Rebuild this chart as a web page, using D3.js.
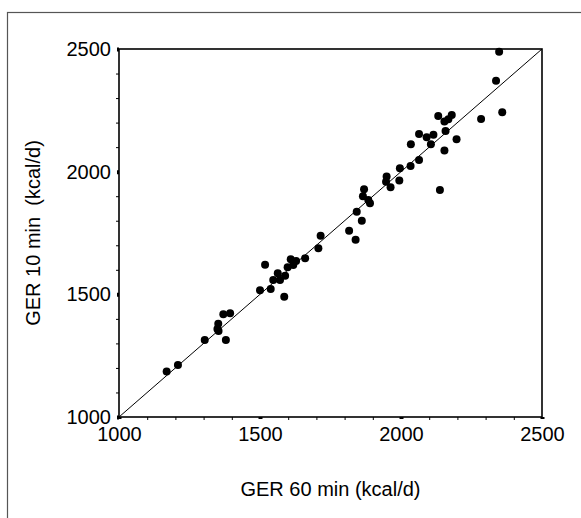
<!DOCTYPE html>
<html>
<head>
<meta charset="utf-8">
<script src="https://cdn.jsdelivr.net/npm/d3@7"></script>
<style>
  body { margin: 0; background: #fff; }
  svg { display: block; font-family: "Liberation Sans", Arial, sans-serif; }
</style>
</head>
<body>
<div id="chart"></div>
<script>
// GER at 60 min (x) vs GER at 10 min (y), kcal/d
const ger60 = [
  1169, 1209, 1304, 1349, 1352, 1353, 1370, 1394, 1379, 1500,
  1518, 1538, 1547, 1563, 1571, 1586, 1589, 1598, 1609, 1618,
  1628, 1660, 1707, 1715, 1816, 1839, 1843, 1861, 1869, 1865,
  1884, 1890, 1947, 1963, 1949, 1994, 1996, 2034, 2064, 2035,
  2064, 2091, 2115, 2106, 2138, 2154, 2158, 2197, 2154, 2168,
  2132, 2180, 2284, 2359, 2337, 2348
];
const ger10 = [
  1185, 1212, 1314, 1359, 1380, 1351, 1419, 1423, 1314, 1517,
  1621, 1522, 1558, 1586, 1558, 1490, 1576, 1610, 1643, 1620,
  1636, 1647, 1688, 1739, 1759, 1722, 1837, 1800, 1928, 1900,
  1885, 1871, 1959, 1936, 1980, 1964, 2014, 2023, 2048, 2112,
  2154, 2140, 2150, 2112, 1925, 2086, 2166, 2132, 2204, 2214,
  2227, 2231, 2215, 2242, 2371, 2489
];
const majorTicks = [1000, 1500, 2000, 2500];
const minorTicks = d3.range(1000, 2501, 100).filter(v => v % 500 !== 0);

const width = 581;
const height = 518;
const margin = { top: 49, right: 39, bottom: 101, left: 119 };

const svg = d3.select("#chart")
  .append("svg")
  .attr("width", width)
  .attr("height", height);

// outer frame (only left/top visible)
svg.append("rect")
  .attr("x", 7.5)
  .attr("y", 12.5)
  .attr("width", 620)
  .attr("height", 560)
  .attr("fill", "none")
  .attr("stroke", "#555")
  .attr("stroke-width", 1.2);

const x = d3.scaleLinear()
  .domain([1000, 2500])
  .range([margin.left, width - margin.right]);

const y = d3.scaleLinear()
  .domain([1000, 2500])
  .range([height - margin.bottom, margin.top]);

// minor ticks
svg.append("g")
  .attr("transform", `translate(0, ${y(1000)})`)
  .call(d3.axisBottom(x).tickValues(minorTicks).tickSize(3).tickFormat(""))
  .call(g => g.select(".domain").remove())
  .selectAll("line").attr("stroke", "#000").attr("stroke-width", 1);

svg.append("g")
  .attr("transform", `translate(${x(1000)}, 0)`)
  .call(d3.axisLeft(y).tickValues(minorTicks).tickSize(3).tickFormat(""))
  .call(g => g.select(".domain").remove())
  .selectAll("line").attr("stroke", "#000").attr("stroke-width", 1);

// major ticks + labels
const xAxis = svg.append("g")
  .attr("transform", `translate(0, ${y(1000)})`)
  .call(d3.axisBottom(x).tickValues(majorTicks).tickSize(2).tickPadding(8).tickFormat(d3.format("d")));
xAxis.select(".domain").remove();
xAxis.selectAll("line").attr("stroke", "#000").attr("stroke-width", 4);
xAxis.selectAll("text").attr("font-size", "20px").attr("fill", "#000")
  .attr("font-family", "Liberation Sans, Arial, sans-serif");

const yAxis = svg.append("g")
  .attr("transform", `translate(${x(1000)}, 0)`)
  .call(d3.axisLeft(y).tickValues(majorTicks).tickSize(2).tickPadding(6).tickFormat(d3.format("d")));
yAxis.select(".domain").remove();
yAxis.selectAll("line").attr("stroke", "#000").attr("stroke-width", 4);
yAxis.selectAll("text").attr("font-size", "20px").attr("fill", "#000")
  .attr("font-family", "Liberation Sans, Arial, sans-serif");

// plot box
svg.append("rect")
  .attr("x", x(1000))
  .attr("y", y(2500))
  .attr("width", x(2500) - x(1000))
  .attr("height", y(1000) - y(2500))
  .attr("fill", "none")
  .attr("stroke", "#000")
  .attr("stroke-width", 1.6);

// identity line
svg.append("line")
  .attr("x1", x(1000))
  .attr("y1", y(1000))
  .attr("x2", x(2500))
  .attr("y2", y(2500))
  .attr("stroke", "#000")
  .attr("stroke-width", 1);

// points
svg.selectAll(".dot")
  .data(ger60.map((v, i) => ({ x: v, y: ger10[i] })))
  .enter()
  .append("circle")
  .attr("class", "dot")
  .attr("cx", d => x(d.x))
  .attr("cy", d => y(d.y))
  .attr("r", 4)
  .attr("fill", "#000");

// axis titles
svg.append("text")
  .attr("x", (x(1000) + x(2500)) / 2)
  .attr("y", 496)
  .attr("text-anchor", "middle")
  .attr("font-size", "20px")
  .text("GER 60 min (kcal/d)");

svg.append("text")
  .attr("transform", `translate(40, ${(y(1000) + y(2500)) / 2}) rotate(-90)`)
  .attr("text-anchor", "middle")
  .attr("font-size", "20px")
  .attr("xml:space", "preserve")
  .style("white-space", "pre")
  .text("GER 10 min  (kcal/d)");
</script>
</body>
</html>
